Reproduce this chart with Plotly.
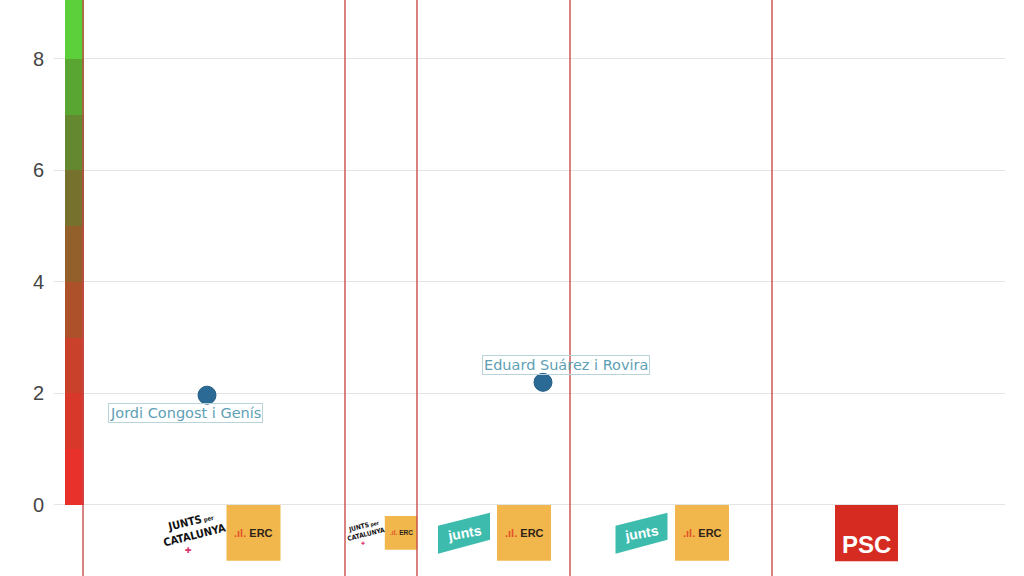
import plotly.graph_objects as go

# ---------------- data ----------------
# colour scale column (value bands)
band_base = [0, 1, 2, 3, 4, 5, 6, 7, 8]
band_height = [1, 1, 1, 1, 1, 1, 1, 1, 1.5]
band_colors = ["#e8312a", "#d8382a", "#c9402b", "#ad512b", "#93602b",
               "#76722d", "#64882f", "#59a632", "#5cd03a"]
band_x = 20.5

# government periods (boundaries on the x axis)
period_bounds = [29, 291, 363, 516, 718]

# party logos under each period
logo_party = ["JxCat", "ERC", "JxCat", "ERC", "Junts", "ERC", "Junts", "ERC", "PSC"]
logo_x = [138.5, 199.5, 311, 347, 410, 470, 587.5, 648, 812.5]
logo_small = [False, False, True, True, False, False, False, False, False]
logo_y = -0.5

# people and scores
names = ["Jordi Congost i Genís", "Eduard Suárez i Rovira"]
score_x = [153, 489]
score_y = [1.97, 2.2]
label_shift = [(-22, -18), (23, 17)]

y_ticks = [0, 2, 4, 6, 8]

# ---------------- figure ----------------
fig = go.Figure()

fig.add_trace(go.Bar(
    x=[band_x] * len(band_base), y=band_height, base=band_base,
    width=19, marker=dict(color=band_colors, line=dict(width=0)),
    hoverinfo="skip", showlegend=False,
))

fig.add_trace(go.Scatter(
    x=score_x, y=score_y, mode="markers",
    marker=dict(size=18, color="#2a6a94", line=dict(width=1, color="#245d84")),
    text=names, hoverinfo="text", showlegend=False,
))

shapes = []
annotations = []

for b in period_bounds:
    shapes.append(dict(type="line", xref="x", yref="paper", x0=b, x1=b, y0=0, y1=1,
                       line=dict(color="rgba(200,70,70,0.85)", width=1.6), layer="above"))

def rect(cx, cy, w, h, color):
    return dict(type="rect", xref="x", yref="y", xsizemode="pixel", ysizemode="pixel",
                xanchor=cx, yanchor=cy, x0=-w / 2, x1=w / 2, y0=-h / 2, y1=h / 2,
                fillcolor=color, line=dict(width=0), layer="below")

for party, cx, small in zip(logo_party, logo_x, logo_small):
    s = 0.6 if small else 1.0
    if party == "ERC":
        shapes.append(rect(cx, logo_y, 54 * s, 56 * s, "#f1b74c"))
        annotations.append(dict(
            x=cx, y=logo_y, xref="x", yref="y", showarrow=False,
            text="<span style='color:#e2512a'>.ıl.</span> ERC",
            font=dict(family="Liberation Sans, Arial", size=11 * s, color="#2e2318", weight="bold"),
        ))
    elif party == "PSC":
        shapes.append(rect(cx, logo_y, 63, 57, "#d52b21"))
        annotations.append(dict(
            x=cx, y=logo_y, xref="x", yref="y", showarrow=False, yshift=-12,
            text="<b>PSC</b>",
            font=dict(family="Liberation Sans, Arial", size=24, color="white"),
        ))
    elif party == "Junts":
        shapes.append(dict(type="path", xref="x", yref="y", xsizemode="pixel", ysizemode="pixel",
                           xanchor=cx, yanchor=logo_y,
                           path="M-26,7 L26,20 L26,-7 L-26,-21 Z",
                           fillcolor="#3dbcae", line=dict(width=0), layer="below"))
        annotations.append(dict(
            x=cx, y=logo_y, xref="x", yref="y", showarrow=False, textangle=-10, yshift=0,
            text="<b>junts</b>",
            font=dict(family="Liberation Sans, Arial", size=14, color="white"),
        ))
    elif party == "JxCat":
        annotations.append(dict(
            x=cx, y=logo_y, xref="x", yref="y", showarrow=False, textangle=-14, yshift=4 * s,
            text="<b>JUNTS</b><span style='font-size:%dpx'><b> per</b></span><br><b>CATALUNYA</b>" % max(5, int(6 * s)),
            font=dict(family="DejaVu Sans Condensed", size=11 * s, color="#111111"),
        ))
        annotations.append(dict(
            x=cx, y=logo_y, xref="x", yref="y", showarrow=False, yshift=-18 * s, xshift=-4 * s,
            text="<b>✚</b>", font=dict(family="DejaVu Sans", size=8 * s, color="#d6336c"),
        ))

for name, x, y, (dx, dy) in zip(names, score_x, score_y, label_shift):
    annotations.append(dict(
        x=x, y=y, xref="x", yref="y", showarrow=False, xshift=dx, yshift=dy,
        text=name, font=dict(family="DejaVu Sans", size=14.5, color="#5e9fb6"),
        bordercolor="#b9d3db", borderwidth=1, borderpad=1, bgcolor="rgba(255,255,255,0)",
    ))

fig.update_layout(
    width=1024, height=576,
    margin=dict(l=54, r=19, t=0, b=0),
    paper_bgcolor="white", plot_bgcolor="white",
    shapes=shapes, annotations=annotations,
    bargap=0, showlegend=False,
    xaxis=dict(range=[0, 951], showgrid=False, zeroline=False, showticklabels=False,
               showline=False, fixedrange=True),
    yaxis=dict(range=[-1.274, 9.058], tickvals=y_ticks, showgrid=True, gridcolor="#e4e4e4",
               gridwidth=1, zeroline=True, zerolinecolor="#e4e4e4", zerolinewidth=1,
               showline=False, ticks="", ticklabelstandoff=9, fixedrange=True,
               tickfont=dict(family="Liberation Sans, Arial", size=20, color="#454545")),
)

fig.write_html("out.html", config={"displayModeBar": False},
               post_script="document.body.style.margin='0';")
